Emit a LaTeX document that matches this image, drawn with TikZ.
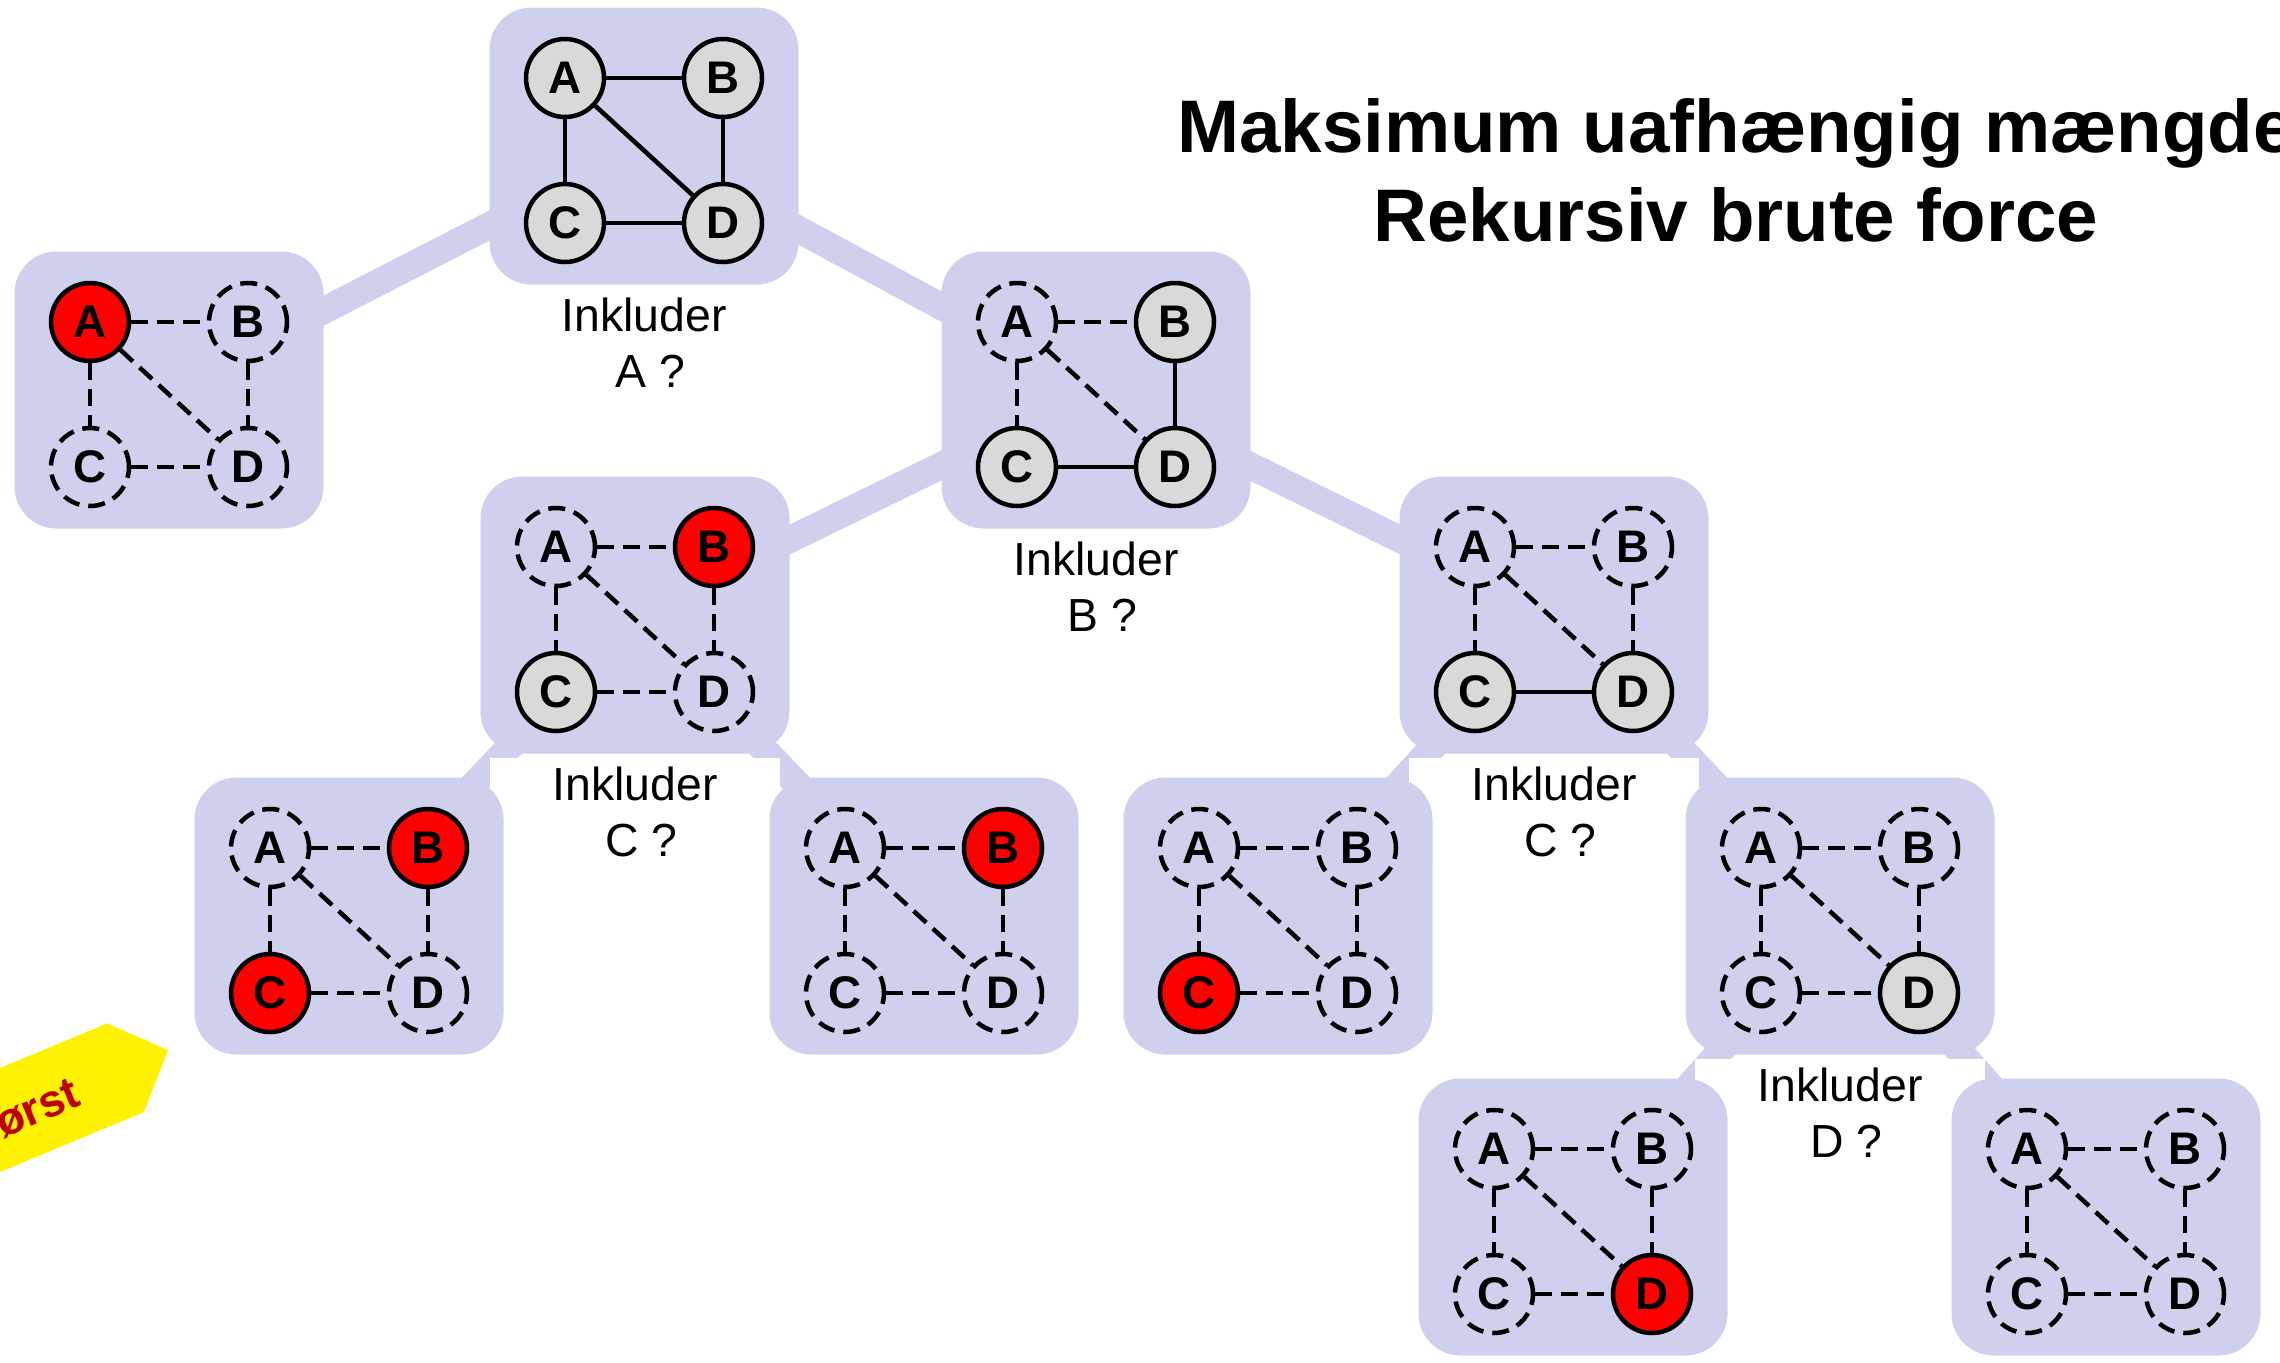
\documentclass[tikz,border=0pt]{standalone}
\usepackage{fontspec}
\setmainfont{Liberation Sans}
\usepackage{tikz}
\usetikzlibrary{positioning}
\usepackage{xcolor}

\definecolor{lilla}{RGB}{207,207,238}
\definecolor{graa}{RGB}{217,217,217}
\definecolor{moerkroed}{RGB}{192,0,0}

\pgfdeclarelayer{grene}
\pgfdeclarelayer{etiketter}
\pgfsetlayers{grene,etiketter,main}

\begin{document}
\begin{tikzpicture}[
    panel/.style={rectangle, rounded corners=0.42cm, fill=lilla, minimum width=3.09cm, minimum height=2.77cm},
    knude/.style={circle, draw, line width=0.045cm, minimum size=0.78cm, inner sep=0pt, font=\fontsize{13}{14}\selectfont\bfseries},
    knude0/.style={knude, fill=graa},
    knude1/.style={knude, fill=red},
    knude2/.style={knude, stiplet},
    stiplet/.style={dash pattern=on 0.17cm off 0.09cm},
    kant/.style={line width=0.045cm},
    gren/.style={line width=0.27cm, lilla},
    etiket/.style={fill=white, align=center, minimum width=2.9cm, inner ysep=0.09cm, font=\fontsize{13.2}{16}\selectfont},
    titel/.style={align=center, inner sep=0pt, font=\fontsize{21.2}{25.3}\selectfont\bfseries},
    piltekst/.style={inner sep=0pt, text=moerkroed, font=\fontsize{13}{14}\selectfont\bfseries}
]

\useasboundingbox (0,0) rectangle (22.8,-13.62);

\foreach \p/\px/\py/\sa/\sb/\sc/\sd in {
    rod/6.44/1.46/0/0/0/0,
    a1/1.69/3.90/1/2/2/2,
    a0/10.96/3.90/2/0/0/0,
    a0b1/6.35/6.15/2/1/0/2,
    a0b0/15.54/6.15/2/2/0/0,
    a0b1c1/3.49/9.16/2/1/1/2,
    a0b1c0/9.24/9.16/2/1/2/2,
    a0b0c1/12.78/9.16/2/2/1/2,
    a0b0c0/18.40/9.16/2/2/2/0,
    a0b0c0d1/15.73/12.17/2/2/2/1,
    a0b0c0d0/21.06/12.17/2/2/2/2} {
    \node[panel] (\p) at (\px,-\py) {};
    \node[knude\sa] (\p A) at ([shift={(-0.79,0.68)}]\p.center) {A};
    \node[knude\sb] (\p B) at ([shift={(0.79,0.68)}]\p.center) {B};
    \node[knude\sc] (\p C) at ([shift={(-0.79,-0.77)}]\p.center) {C};
    \node[knude\sd] (\p D) at ([shift={(0.79,-0.77)}]\p.center) {D};
    \foreach \u/\v/\su/\sv in {A/B/\sa/\sb, A/C/\sa/\sc, A/D/\sa/\sd, B/D/\sb/\sd, C/D/\sc/\sd} {
        \ifnum\su\sv=0 \def\kst{}\else\def\kst{stiplet}\fi
        \draw[kant,\kst] (\p\u) -- (\p\v);
    }
}

\begin{pgfonlayer}{grene}
\foreach \s/\t in {rod/a1, rod/a0, a0/a0b1, a0/a0b0, a0b1/a0b1c1, a0b1/a0b1c0,
    a0b0/a0b0c1, a0b0/a0b0c0, a0b0c0/a0b0c0d1, a0b0c0/a0b0c0d0} {
    \draw[gren] (\s.center) -- (\t.center);
}
\end{pgfonlayer}

\begin{pgfonlayer}{etiketter}
\node[etiket, below=0.03cm of rod] (spA) {Inkluder\\\ A ?};
\node[etiket, below=0.03cm of a0] (spB) {Inkluder\\\ B ?};
\node[etiket, below=0.03cm of a0b1] (spC1) {Inkluder\\\ C ?};
\node[etiket, below=0.03cm of a0b0] (spC2) {Inkluder\\\ C ?};
\node[etiket, below=0.03cm of a0b0c0] (spD) {Inkluder\\\ D ?};
\end{pgfonlayer}

\node[titel, anchor=north] (titel) at (17.36,-0.98) {Maksimum uafhængig mængde\\Rekursiv brute force};

\begin{scope}[shift={(0,-10.68)}, rotate=22.6]
    \fill[yellow] (-3,0) -- (1.16,0) -- (1.62,-0.48) -- (1.16,-0.96) -- (-3,-0.96) -- cycle;
    \node[piltekst, anchor=base east, transform shape] (pil) at (0.63,-0.66) {først};
\end{scope}

\end{tikzpicture}
\end{document}
